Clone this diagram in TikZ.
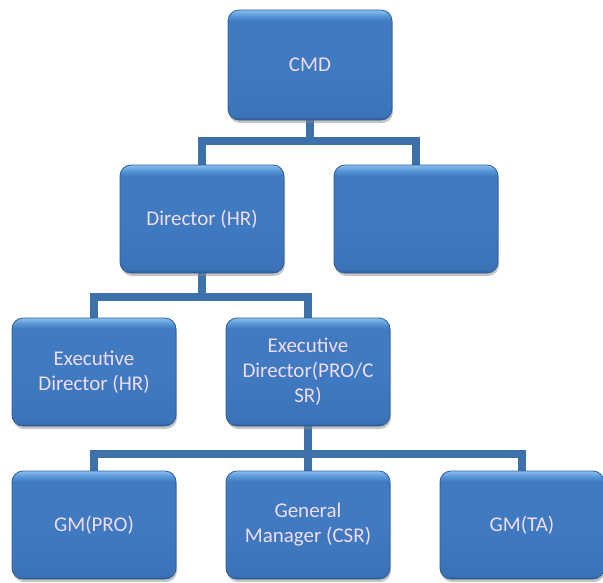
\documentclass[tikz,border=0pt]{standalone}
\usepackage{fontspec}
\setmainfont{Carlito}
\usetikzlibrary{shadows,backgrounds}
\definecolor{bt}{HTML}{8CC0EE}
\definecolor{bt2}{HTML}{5A98D8}
\definecolor{bm}{HTML}{407AC0}
\definecolor{bm2}{HTML}{3B73B8}
\definecolor{bb}{HTML}{2A5894}
\definecolor{boxedge}{HTML}{2E5C98}
\definecolor{linecol}{HTML}{3E70AC}
\definecolor{txtcol}{HTML}{EEDCF2}
\pgfdeclareverticalshading{boxshade}{100bp}{color(0bp)=(bb); color(25bp)=(bb); color(26.5bp)=(bm2); color(50bp)=(bm); color(70bp)=(bm); color(72.5bp)=(bt2); color(75bp)=(bt); color(100bp)=(bt)}
\tikzset{
  orgbox/.style={draw=boxedge, line width=0.8pt, rounded corners=11pt,
    minimum width=164pt, minimum height=108pt,
    shading=boxshade,
    drop shadow={shadow xshift=1pt, shadow yshift=-3pt, fill=black!45, opacity=0.5},
    font=\fontsize{21}{25}\selectfont, text=txtcol, align=center, inner sep=2pt},
  conn/.style={draw=linecol, line width=8pt, line join=miter}
}
\begin{document}
\begin{tikzpicture}[x=1pt,y=1pt]
\useasboundingbox (0,0) rectangle (603,-582);
\node[orgbox, minimum height=110pt] (cmd) at (310,-65) {CMD};
\node[orgbox] (dir) at (202,-219) {Director (HR)};
\node[orgbox] (empty) at (416,-219) {};
\node[orgbox] (ed1) at (94,-372) {Executive\\Director (HR)};
\node[orgbox] (ed2) at (308,-372) {Executive\\Director(PRO/C\\SR)};
\node[orgbox] (gm1) at (94,-525) {GM(PRO)};
\node[orgbox] (gm2) at (308,-525) {General\\Manager (CSR)};
\node[orgbox] (gm3) at (522,-525) {GM(TA)};
\coordinate (j1) at (310,-141);
\coordinate (j2) at (202,-297);
\coordinate (j3) at (308,-454);
\begin{scope}[on background layer]
\fill[white] (0,0) rectangle (603,-582);
\draw[conn] (cmd.south) -- (j1);
\draw[conn] (j1) -| (dir.north);
\draw[conn] (j1) -| (empty.north);
\draw[conn] (dir.south) -- (j2);
\draw[conn] (j2) -| (ed1.north);
\draw[conn] (j2) -| (ed2.north);
\draw[conn] (ed2.south) -- (j3);
\draw[conn] (j3) -| (gm1.north);
\draw[conn] (j3) -| (gm2.north);
\draw[conn] (j3) -| (gm3.north);
\end{scope}
\end{tikzpicture}
\end{document}
